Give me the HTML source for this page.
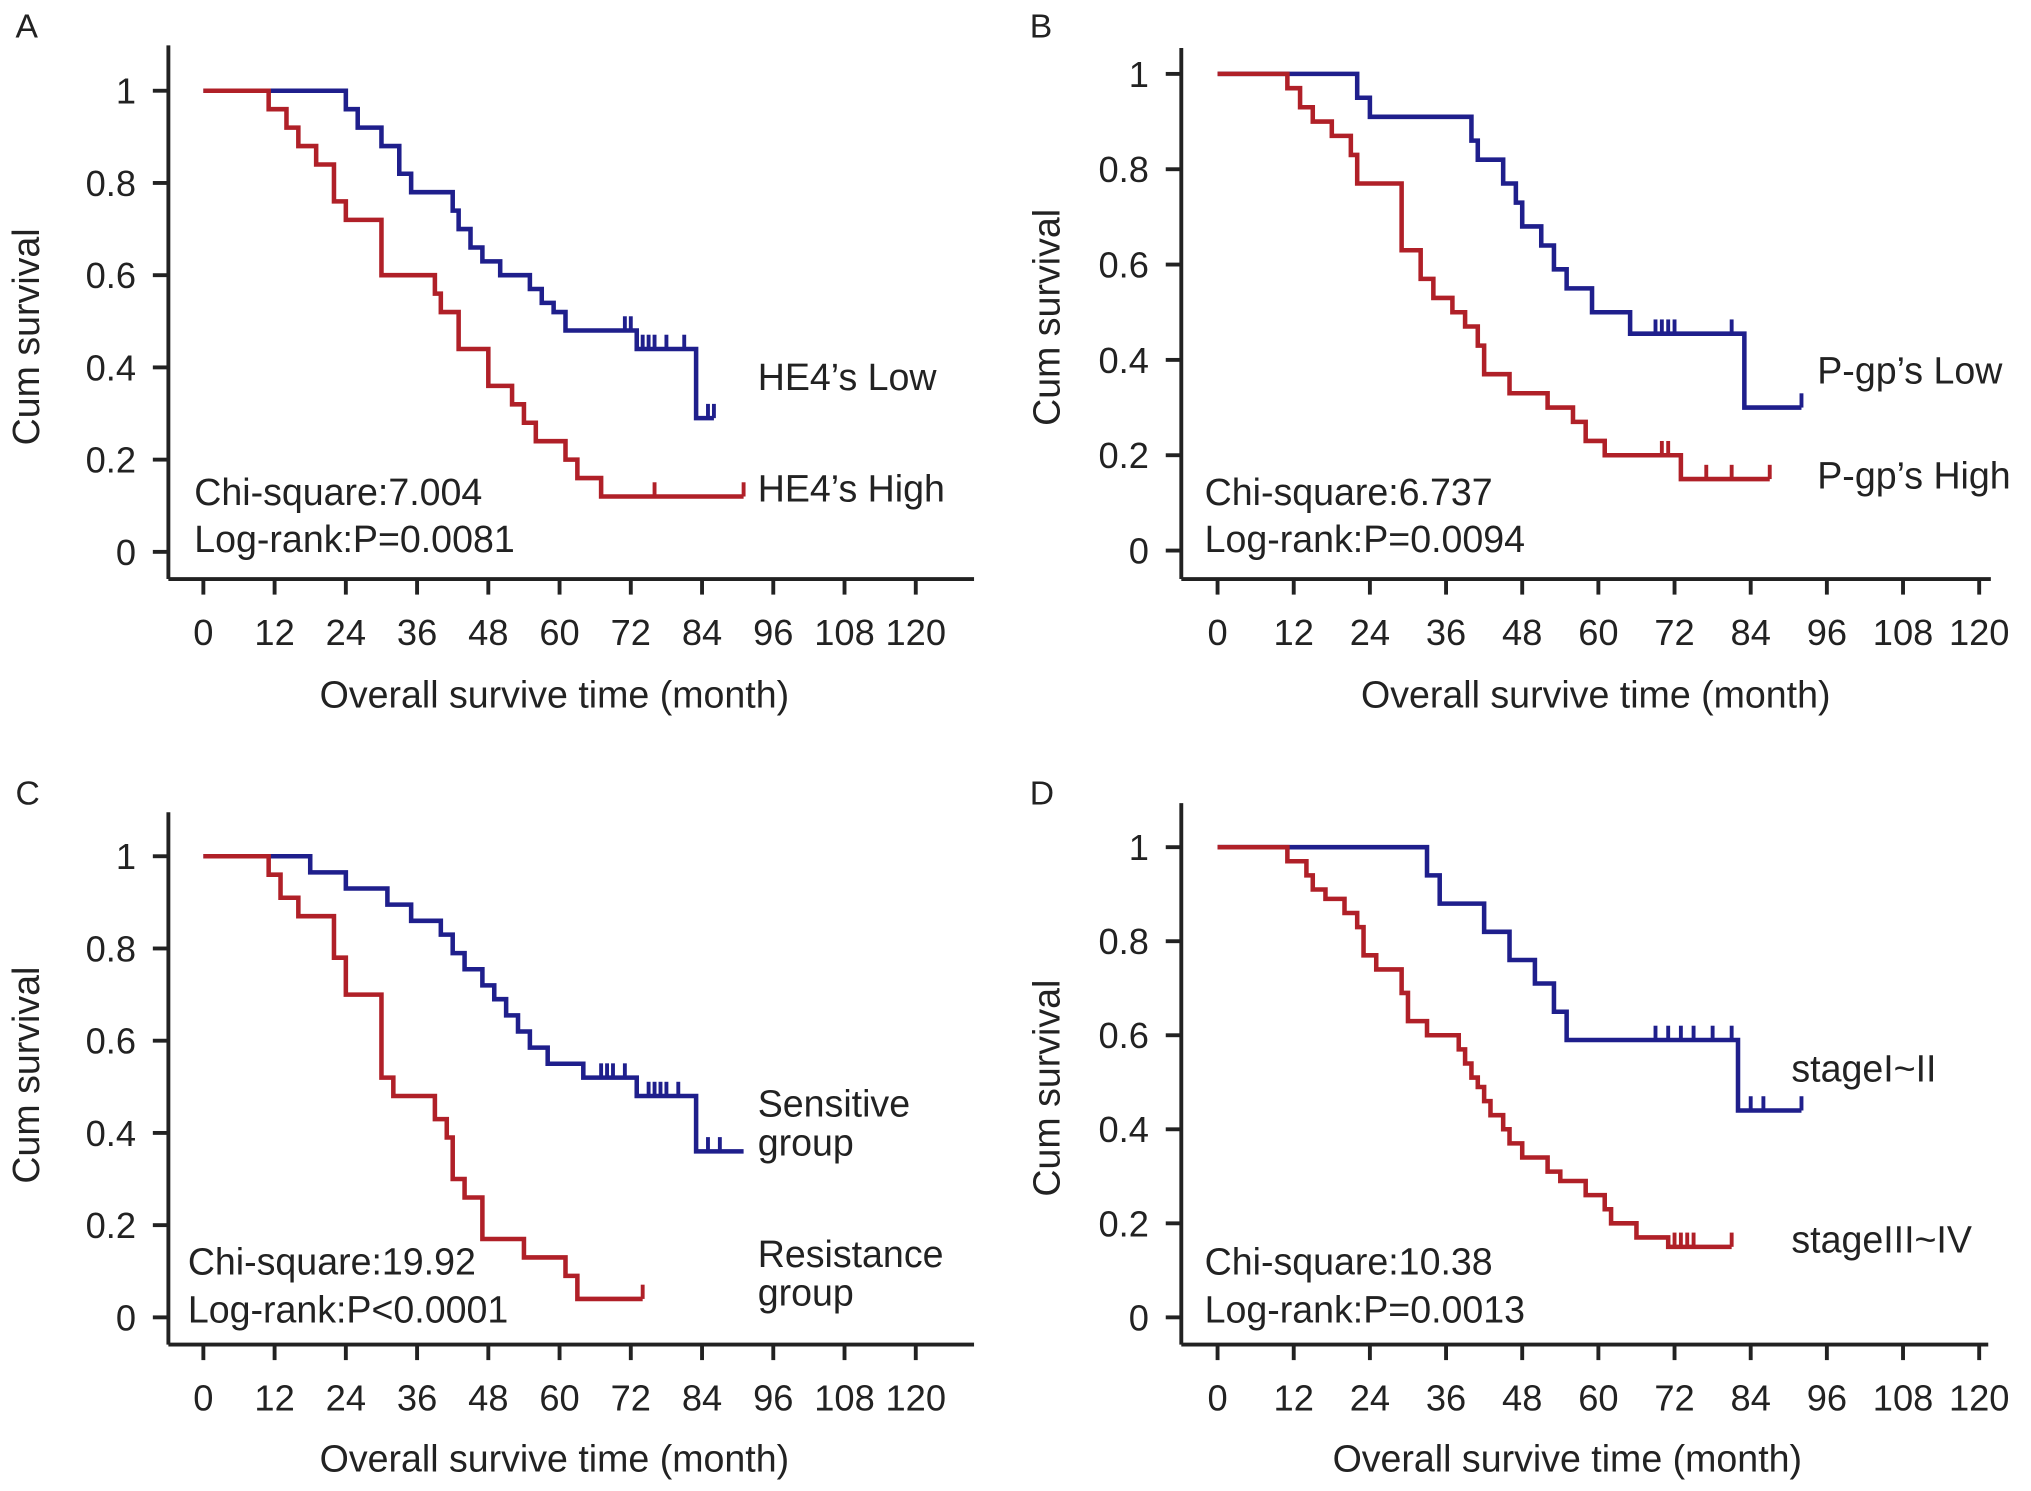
<!DOCTYPE html>
<html><head><meta charset="utf-8">
<style>
html,body{margin:0;padding:0;background:#fff;}
svg{display:block;}
text{font-family:"Liberation Sans",Arial,sans-serif;fill:#222;}
</style></head>
<body>
<svg id="fig" width="2031" height="1491" viewBox="0 0 1568 1151" xmlns="http://www.w3.org/2000/svg"></svg>
<script>
// Panel A data: [time, survival] step points
const aLowSteps = [[0,1],[24,0.96],[26,0.92],[30,0.88],[33,0.82],[35,0.78],[42,0.74],[43,0.70],[45,0.66],[47,0.63],[50,0.60],[55,0.57],[57,0.54],[59,0.52],[61,0.48],[73,0.44],[83,0.29]];
const aLowEnd = 86;
const aLowCens = [71,72,73,74,75,76,78,81,85,86];
const aHighSteps = [[0,1],[11,0.96],[14,0.92],[16,0.88],[19,0.84],[22,0.76],[24,0.72],[30,0.60],[39,0.56],[40,0.52],[43,0.44],[48,0.36],[52,0.32],[54,0.28],[56,0.24],[61,0.20],[63,0.16],[67,0.12]];
const aHighEnd = 91;
const aHighCens = [76,91];
// Panel B
const bLowSteps = [[0,1],[22,0.95],[24,0.91],[40,0.86],[41,0.82],[45,0.77],[47,0.73],[48,0.68],[51,0.64],[53,0.59],[55,0.55],[59,0.50],[65,0.455],[83,0.30]];
const bLowEnd = 92;
const bLowCens = [69,70,71,72,81,92];
const bHighSteps = [[0,1],[11,0.97],[13,0.93],[15,0.90],[18,0.87],[21,0.83],[22,0.77],[29,0.63],[32,0.57],[34,0.53],[37,0.50],[39,0.47],[41,0.43],[42,0.37],[46,0.33],[52,0.30],[56,0.27],[58,0.23],[61,0.20],[73,0.15]];
const bHighEnd = 87;
const bHighCens = [70,71,77,81,87];
// Panel C
const cSensSteps = [[0,1],[18,0.965],[24,0.93],[31,0.895],[35,0.86],[40,0.83],[42,0.79],[44,0.755],[47,0.72],[49,0.69],[51,0.655],[53,0.62],[55,0.585],[58,0.55],[64,0.52],[73,0.48],[83,0.36]];
const cSensEnd = 91;
const cSensCens = [67,68,69,71,75,76,77,78,80,85,87];
const cResSteps = [[0,1],[11,0.96],[13,0.91],[16,0.87],[22,0.78],[24,0.70],[30,0.52],[32,0.48],[39,0.43],[41,0.39],[42,0.30],[44,0.26],[47,0.17],[54,0.13],[61,0.09],[63,0.04]];
const cResEnd = 74;
const cResCens = [74];
// Panel D
const dEarlySteps = [[0,1],[33,0.94],[35,0.88],[42,0.82],[46,0.76],[50,0.71],[53,0.65],[55,0.59],[82,0.44]];
const dEarlyEnd = 92;
const dEarlyCens = [69,71,73,75,78,81,84,86,92];
const dLateSteps = [[0,1],[11,0.97],[14,0.94],[15,0.91],[17,0.89],[20,0.86],[22,0.83],[23,0.77],[25,0.74],[29,0.69],[30,0.63],[33,0.60],[38,0.57],[39,0.54],[40,0.51],[41,0.49],[42,0.46],[43,0.43],[45,0.40],[46,0.37],[48,0.34],[52,0.31],[54,0.29],[58,0.26],[61,0.23],[62,0.20],[66,0.17],[71,0.15]];
const dLateEnd = 81;
const dLateCens = [72,73,74,75,81];
const xTicks = [0,12,24,36,48,60,72,84,96,108,120];
const yTicks = [0,0.2,0.4,0.6,0.8,1];
const yTickLabels = ["0","0.2","0.4","0.6","0.8","1"];

const NS = "http://www.w3.org/2000/svg";
const svg = document.getElementById('fig');
function mk(tag, attrs, parent){const e=document.createElementNS(NS,tag);for(const k in attrs)e.setAttribute(k,attrs[k]);(parent||svg).appendChild(e);return e;}

const panels = [
 {id:'a',letter:'A',lx:12,ly:29,ax:130,yb:447,yt:35,xe:752,px0:157,px1:707,py1:70,py0:426,
  series:[{s:aLowSteps,e:aLowEnd,c:aLowCens,col:'#1f1f8c',n:'he4-low'},{s:aHighSteps,e:aHighEnd,c:aHighCens,col:'#b02028',n:'he4-high'}],
  labels:[["HE4’s Low",585,301,'label-he4-low'],["HE4’s High",585,387,'label-he4-high'],["Chi-square:7.004",150,390,'chi-square'],["Log-rank:P=0.0081",150,426,'log-rank']],
  ylx:30,yly:260,xlx:428,xly:546},
 {id:'b',letter:'B',lx:795,ly:29,ax:912,yb:447,yt:37,xe:1537,px0:940,px1:1528,py1:57,py0:425,
  series:[{s:bLowSteps,e:bLowEnd,c:bLowCens,col:'#1f1f8c',n:'pgp-low'},{s:bHighSteps,e:bHighEnd,c:bHighCens,col:'#b02028',n:'pgp-high'}],
  labels:[["P-gp’s Low",1403,296,'label-pgp-low'],["P-gp’s High",1403,377,'label-pgp-high'],["Chi-square:6.737",930,390,'chi-square'],["Log-rank:P=0.0094",930,426,'log-rank']],
  ylx:818,yly:245,xlx:1232,xly:546},
 {id:'c',letter:'C',lx:12,ly:621,ax:130,yb:1038,yt:627,xe:752,px0:157,px1:707,py1:661,py0:1017,
  series:[{s:cSensSteps,e:cSensEnd,c:cSensCens,col:'#1f1f8c',n:'sensitive'},{s:cResSteps,e:cResEnd,c:cResCens,col:'#b02028',n:'resistance'}],
  labels:[["Sensitive",585,862,'label-sensitive'],["group",585,892,'label-sensitive-group'],["Resistance",585,978,'label-resistance'],["group",585,1008,'label-resistance-group'],["Chi-square:19.92",145,984,'chi-square'],["Log-rank:P<0.0001",145,1021,'log-rank']],
  ylx:30,yly:830,xlx:428,xly:1136},
 {id:'d',letter:'D',lx:795,ly:621,ax:912,yb:1038,yt:620,xe:1535,px0:940,px1:1528,py1:654,py0:1017,
  series:[{s:dEarlySteps,e:dEarlyEnd,c:dEarlyCens,col:'#1f1f8c',n:'stage-i-ii'},{s:dLateSteps,e:dLateEnd,c:dLateCens,col:'#b02028',n:'stage-iii-iv'}],
  labels:[["stageI~II",1383,835,'label-stage-i-ii'],["stageIII~IV",1383,967,'label-stage-iii-iv'],["Chi-square:10.38",930,984,'chi-square'],["Log-rank:P=0.0013",930,1021,'log-rank']],
  ylx:818,yly:840,xlx:1210,xly:1136}
];

panels.forEach(p=>{
  const g = mk('g',{});
  
  
  const X = t => p.px0 + (p.px1-p.px0)*t/120;
  const Y = v => p.py0 + (p.py1-p.py0)*v;
  const lt = mk('text',{x:p.lx,y:p.ly,'font-size':26},g); lt.textContent=p.letter;
  
  
  const ya = mk('line',{x1:p.ax,y1:p.yt,x2:p.ax,y2:p.yb,stroke:'#222','stroke-width':3},g);
  
  
  const xa = mk('line',{x1:p.ax,y1:p.yb,x2:p.xe,y2:p.yb,stroke:'#222','stroke-width':3},g);
  
  
  yTicks.forEach((v,i)=>{
    mk('line',{x1:p.ax-12,y1:Y(v),x2:p.ax,y2:Y(v),stroke:'#222','stroke-width':3},g);
    const t = mk('text',{x:p.ax-25,y:Y(v)+10,'font-size':28,'text-anchor':'end'},g);
    t.textContent = yTickLabels[i];
    
    
  });
  xTicks.forEach(v=>{
    mk('line',{x1:X(v),y1:p.yb,x2:X(v),y2:p.yb+12,stroke:'#222','stroke-width':3},g);
    const t = mk('text',{x:X(v),y:p.yb+51,'font-size':28,'text-anchor':'middle'},g);
    t.textContent = String(v);
    
    
  });
  const yl = mk('text',{x:0,y:0,'font-size':29,'text-anchor':'middle',transform:`translate(${p.ylx},${p.yly}) rotate(-90)`},g);
  yl.textContent='Cum survival';
  
  
  const xl = mk('text',{x:p.xlx,y:p.xly,'font-size':29,'text-anchor':'middle'},g);
  xl.textContent='Overall survive time (month)';
  
  
  p.series.forEach(se=>{
    let d = `M${X(se.s[0][0])},${Y(se.s[0][1])}`;
    for(let i=1;i<se.s.length;i++){
      d += ` H${X(se.s[i][0])} V${Y(se.s[i][1])}`;
    }
    d += ` H${X(se.e)}`;
    const path = mk('path',{d:d,fill:'none',stroke:se.col,'stroke-width':3.5},g);
    
    
    se.c.forEach(t=>{
      let v = se.s[0][1];
      se.s.forEach(pt=>{ if(pt[0]<=t) v=pt[1]; });
      const tk = mk('line',{x1:X(t),y1:Y(v),x2:X(t),y2:Y(v)-11,stroke:se.col,'stroke-width':3},g);
      
      
    });
  });
  p.labels.forEach(l=>{
    const t = mk('text',{x:l[1],y:l[2],'font-size':29},g);
    t.textContent=l[0];
    
    
  });
});
</script>
</body></html>
